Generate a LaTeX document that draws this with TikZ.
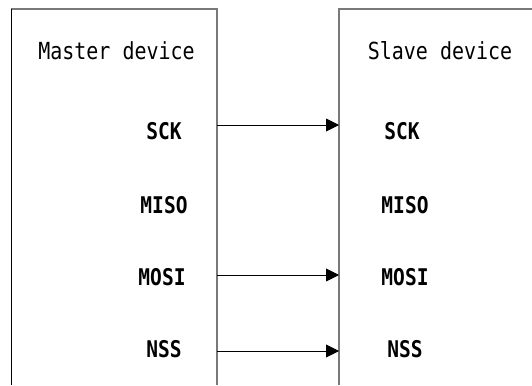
\documentclass[tikz,border=0pt]{standalone}
\usepackage{fontspec}
\setmonofont[FakeStretch=0.85]{DejaVu Sans Mono}
\usetikzlibrary{arrows.meta}
\begin{document}
\begin{tikzpicture}[x=1pt,y=-1pt,
  boxline/.style={draw=gray!95!black,line width=1.3pt},
  title/.style={font=\ttfamily\fontsize{23.5}{24}\selectfont,anchor=center,inner sep=0pt},
  sig/.style={font=\ttfamily\bfseries\fontsize{23}{24}\selectfont,anchor=center,inner sep=0pt},
  conn/.style={draw=black,line width=0.9pt,-{Triangle[length=13pt,width=13pt]}}]
\useasboundingbox (0,0) rectangle (532,385);
% boxes
\draw[boxline] (217,385) -- (217,9) -- (11,9);
\draw[black,line width=1pt] (11,9) -- (11,385);
\draw[boxline] (339,385) -- (339,9) -- (532,9);
% titles
\node[title] (master) at (116.5,51) {Master device};
\node[title] (slave) at (440,51) {Slave device};
% signals
\node[sig] (msck) at (164,131) {SCK};
\node[sig] (mmiso) at (164,205) {MISO};
\node[sig] (mmosi) at (162,277) {MOSI};
\node[sig] (mnss) at (164,349) {NSS};
\node[sig] (ssck) at (402,131) {SCK};
\node[sig] (smiso) at (405,205) {MISO};
\node[sig] (smosi) at (405,277) {MOSI};
\node[sig] (snss) at (405,349) {NSS};
% connector ends
\coordinate (a1) at (217,125); \coordinate (b1) at (339,125);
\coordinate (a2) at (217,275); \coordinate (b2) at (339,275);
\coordinate (a3) at (217,351); \coordinate (b3) at (339,351);
\draw[conn] (a1) -- (b1);
\draw[conn] (a2) -- (b2);
\draw[conn] (a3) -- (b3);
\end{tikzpicture}
\end{document}
